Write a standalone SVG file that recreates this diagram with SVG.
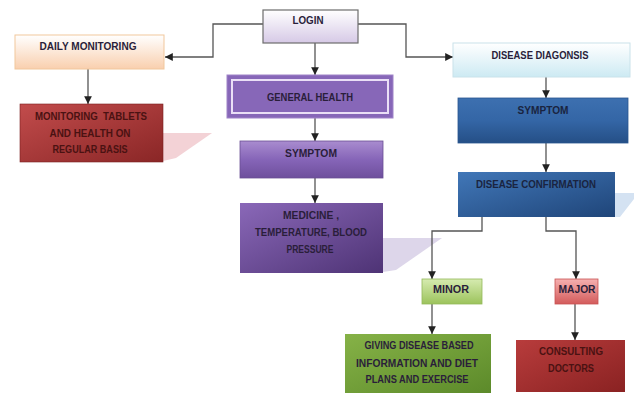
<svg xmlns="http://www.w3.org/2000/svg" width="634" height="393" viewBox="0 0 634 393">
<defs>
<linearGradient id="gLogin" x1="0" y1="0" x2="0" y2="1"><stop offset="0" stop-color="#ffffff"/><stop offset="1" stop-color="#d6c9e6"/></linearGradient>
<linearGradient id="gDaily" x1="0" y1="0" x2="0" y2="1"><stop offset="0" stop-color="#ffffff"/><stop offset="1" stop-color="#f9cfae"/></linearGradient>
<linearGradient id="gDiag" x1="0" y1="0" x2="0" y2="1"><stop offset="0" stop-color="#ffffff"/><stop offset="1" stop-color="#cdeaf3"/></linearGradient>
<linearGradient id="gRed" x1="0" y1="0" x2="1" y2="1"><stop offset="0" stop-color="#c24c4c"/><stop offset="1" stop-color="#8a2626"/></linearGradient>
<linearGradient id="gPurple" x1="0" y1="0" x2="0" y2="1"><stop offset="0" stop-color="#a98ccf"/><stop offset="0.5" stop-color="#8665b8"/><stop offset="1" stop-color="#6e4f9c"/></linearGradient>
<linearGradient id="gPurpleDark" x1="0" y1="0" x2="1" y2="1"><stop offset="0" stop-color="#8a68b8"/><stop offset="1" stop-color="#4e3375"/></linearGradient>
<linearGradient id="gBlue" x1="0" y1="0" x2="0" y2="1"><stop offset="0" stop-color="#3d70b0"/><stop offset="0.5" stop-color="#3466a6"/><stop offset="1" stop-color="#254f86"/></linearGradient>
<linearGradient id="gBlue2" x1="0" y1="0" x2="1" y2="1"><stop offset="0" stop-color="#4177b8"/><stop offset="1" stop-color="#1f4579"/></linearGradient>
<linearGradient id="gMinor" x1="0" y1="0" x2="0" y2="1"><stop offset="0" stop-color="#d6ebb0"/><stop offset="1" stop-color="#9cc35c"/></linearGradient>
<linearGradient id="gMajor" x1="0" y1="0" x2="0" y2="1"><stop offset="0" stop-color="#f6b0b0"/><stop offset="1" stop-color="#d35b5b"/></linearGradient>
<linearGradient id="gGreen" x1="0" y1="0" x2="1" y2="1"><stop offset="0" stop-color="#86b247"/><stop offset="1" stop-color="#5c8a2a"/></linearGradient>
<linearGradient id="gRed2" x1="0" y1="0" x2="1" y2="1"><stop offset="0" stop-color="#b83c3c"/><stop offset="1" stop-color="#8a2222"/></linearGradient>
<marker id="arr" viewBox="0 0 10 10" refX="10" refY="5" markerWidth="6" markerHeight="6" orient="auto"><path d="M0,0 L10,5 L0,10 z" fill="#222"/></marker>
</defs>
<style>
text{font-family:"Liberation Sans",Arial,sans-serif;font-weight:bold;font-size:11px;text-anchor:middle;fill:#2a1e3a}
.dark{fill:#4a1212}
.navy{fill:#1a2440}
.conn{fill:none;stroke:#555;stroke-width:1.3;marker-end:url(#arr)}
</style>
<g id="shadows">
<polygon points="163,133 212,133 176,158 163,161" fill="#f3d2d6"/>
<polygon points="383,238 442,238 396,270 383,272" fill="#ddd6ea"/>
<polygon points="615,193 634,193 634,199 620,217 615,217" fill="#d4e2f2"/>
</g>
<g id="connectors">
<path class="conn" d="M263,24 H213 V57 H165"/>
<path class="conn" d="M358,24 H406 V57 H453"/>
<path class="conn" d="M315,43 V75"/>
<path class="conn" d="M88,69 V104"/>
<path class="conn" d="M315,118 V141"/>
<path class="conn" d="M315,178 V203"/>
<path class="conn" d="M546,77 V98"/>
<path class="conn" d="M546,143 V172"/>
<path class="conn" d="M482,217 V231 H432 V279"/>
<path class="conn" d="M546,217 V231 H576 V279"/>
<path class="conn" d="M432,304 V334"/>
<path class="conn" d="M575,304 V340"/>
</g>
<g id="login">
<rect x="263" y="10" width="95" height="33" fill="url(#gLogin)" stroke="#6d6d6d" stroke-width="1.2"/>
<text x="308" y="24" textLength="31" lengthAdjust="spacingAndGlyphs">LOGIN</text>
</g>
<g id="daily-monitoring">
<rect x="15" y="35" width="149" height="34" fill="url(#gDaily)" stroke="#f1c79c" stroke-width="1"/>
<text x="88" y="50" textLength="97" lengthAdjust="spacingAndGlyphs">DAILY MONITORING</text>
</g>
<g id="monitoring-tablets">
<rect x="20" y="104" width="143" height="58" fill="url(#gRed)" stroke="#7a2020" stroke-width="0.6"/>
<text class="dark" x="91" y="120" textLength="112" lengthAdjust="spacingAndGlyphs" xml:space="preserve">MONITORING  TABLETS</text>
<text class="dark" x="90" y="136.5" textLength="81" lengthAdjust="spacingAndGlyphs">AND HEALTH ON</text>
<text class="dark" x="90" y="153" textLength="75" lengthAdjust="spacingAndGlyphs">REGULAR BASIS</text>
</g>
<g id="general-health">
<rect x="227" y="75" width="166" height="43" fill="#8767b8" stroke="#9f84c8" stroke-width="1"/>
<rect x="232" y="80" width="156" height="33" fill="none" stroke="#eadff6" stroke-width="2"/>
<text x="310" y="101" textLength="86" lengthAdjust="spacingAndGlyphs">GENERAL HEALTH</text>
</g>
<g id="symptom-purple">
<rect x="240" y="141" width="143" height="37" fill="url(#gPurple)" stroke="#6a4f94" stroke-width="0.8"/>
<text x="311" y="157" textLength="52" lengthAdjust="spacingAndGlyphs">SYMPTOM</text>
</g>
<g id="medicine">
<rect x="240" y="203" width="143" height="70" fill="url(#gPurpleDark)"/>
<text x="311" y="219" textLength="56" lengthAdjust="spacingAndGlyphs">MEDICINE ,</text>
<text x="311" y="236" textLength="112" lengthAdjust="spacingAndGlyphs">TEMPERATURE, BLOOD</text>
<text x="310" y="253" textLength="47" lengthAdjust="spacingAndGlyphs">PRESSURE</text>
</g>
<g id="disease-diagonsis">
<rect x="453" y="43" width="177" height="34" fill="url(#gDiag)" stroke="#c9e2ea" stroke-width="1"/>
<text x="540" y="59" textLength="97" lengthAdjust="spacingAndGlyphs">DISEASE DIAGONSIS</text>
</g>
<g id="symptom-blue">
<rect x="458" y="98" width="170" height="45" fill="url(#gBlue)" stroke="#2a5690" stroke-width="0.8"/>
<text class="navy" x="543" y="114" textLength="51" lengthAdjust="spacingAndGlyphs">SYMPTOM</text>
</g>
<g id="disease-confirmation">
<rect x="458" y="172" width="157" height="45" fill="url(#gBlue2)"/>
<text class="navy" x="536" y="187.5" textLength="120" lengthAdjust="spacingAndGlyphs">DISEASE CONFIRMATION</text>
</g>
<g id="minor">
<rect x="422" y="279" width="60" height="25" fill="url(#gMinor)" stroke="#93b85a" stroke-width="0.8"/>
<text x="451" y="293" textLength="36" lengthAdjust="spacingAndGlyphs">MINOR</text>
</g>
<g id="major">
<rect x="555" y="279" width="43" height="25" fill="url(#gMajor)" stroke="#c95454" stroke-width="0.8"/>
<text x="577" y="293" textLength="37" lengthAdjust="spacingAndGlyphs">MAJOR</text>
</g>
<g id="giving-disease">
<rect x="345" y="334" width="146" height="59" fill="url(#gGreen)"/>
<text x="419" y="349" textLength="109" lengthAdjust="spacingAndGlyphs">GIVING DISEASE BASED</text>
<text x="417" y="367" textLength="122" lengthAdjust="spacingAndGlyphs">INFORMATION AND DIET</text>
<text x="417" y="383" textLength="103" lengthAdjust="spacingAndGlyphs">PLANS AND EXERCISE</text>
</g>
<g id="consulting-doctors">
<rect x="516" y="340" width="109" height="52" fill="url(#gRed2)"/>
<text class="dark" x="571" y="355" textLength="64" lengthAdjust="spacingAndGlyphs">CONSULTING</text>
<text class="dark" x="571" y="372" textLength="46" lengthAdjust="spacingAndGlyphs">DOCTORS</text>
</g>
</svg>
